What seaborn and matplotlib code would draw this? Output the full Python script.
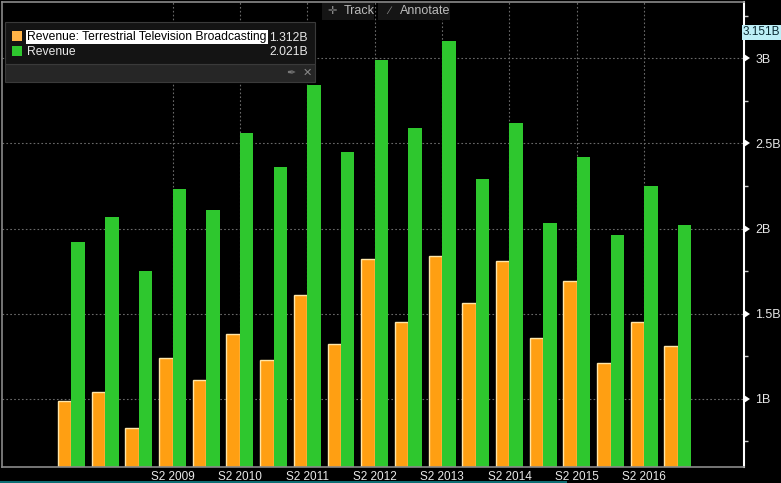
import numpy as np
import pandas as pd
import seaborn as sns
import matplotlib.pyplot as plt
from matplotlib.ticker import FixedLocator, MultipleLocator, FuncFormatter
from matplotlib.patches import Rectangle

# half-year periods, S1 2008 .. S1 2017
periods = ['S1 2008', 'S2 2008', 'S1 2009', 'S2 2009', 'S1 2010', 'S2 2010',
           'S1 2011', 'S2 2011', 'S1 2012', 'S2 2012', 'S1 2013', 'S2 2013',
           'S1 2014', 'S2 2014', 'S1 2015', 'S2 2015', 'S1 2016', 'S2 2016',
           'S1 2017']
tv_revenue = [0.99, 1.04, 0.83, 1.24, 1.11, 1.38, 1.23, 1.61, 1.32, 1.82,
              1.45, 1.84, 1.56, 1.81, 1.36, 1.69, 1.21, 1.45, 1.312]
total_revenue = [1.92, 2.07, 1.75, 2.23, 2.11, 2.56, 2.36, 2.84, 2.45, 2.99,
                 2.59, 3.10, 2.29, 2.62, 2.03, 2.42, 1.96, 2.25, 2.021]
series_names = ['Revenue: Terrestrial Television Broadcasting', 'Revenue']
x_labels = ['S2 2009', 'S2 2010', 'S2 2011', 'S2 2012',
            'S2 2013', 'S2 2014', 'S2 2015', 'S2 2016']
last_label = '3.151B'

orange = '#FF9F12'
green = '#2EC72E'

df = pd.DataFrame({
    'period': periods * 2,
    'series': [series_names[0]] * len(periods) + [series_names[1]] * len(periods),
    'value': tv_revenue + total_revenue,
})

sns.set_style('dark', {'axes.facecolor': 'black', 'figure.facecolor': 'black'})
plt.rcParams['font.family'] = ['Liberation Sans', 'DejaVu Sans']

W, H = 781, 483
fig = plt.figure(figsize=(W / 100, H / 100), dpi=100)
fig.patch.set_facecolor('black')
ax = fig.add_axes([2 / W, (H - 467) / H, (744 - 2) / W, (467 - 2) / H])
ax.set_facecolor('black')

sns.barplot(data=df, x='period', y='value', hue='series', order=periods,
            hue_order=series_names, palette=[orange, green], width=0.8,
            gap=0, saturation=1, legend=False, ax=ax)
for bar in ax.containers[0]:
    bar.set_edgecolor('#FFE6A8')
    bar.set_linewidth(1.0)
for bar in ax.containers[1]:
    bar.set_linewidth(0)

ax.set_xlim(-2.06, 19.96)
ax.set_ylim(0.60, 3.33)
ax.set_xlabel('')
ax.set_ylabel('')

# x ticks every S2 from 2009
xt = [periods.index(p) for p in x_labels]
ax.xaxis.set_major_locator(FixedLocator(xt))
ax.set_xticklabels(x_labels)
ax.tick_params(axis='x', colors='#9a9a9a', labelcolor='#e8e8e8', length=3,
               width=1, direction='out', labelsize=8.5, pad=0)

ax.yaxis.tick_right()
ax.yaxis.set_major_locator(MultipleLocator(0.5))
ax.yaxis.set_minor_locator(MultipleLocator(0.25))
ax.yaxis.set_major_formatter(FuncFormatter(lambda v, p: '{:g}B'.format(v)))
ax.tick_params(axis='y', which='major', colors='white', labelcolor='#e8e8e8',
               labelsize=9, length=0, pad=8)
ax.tick_params(axis='y', which='minor', colors='#cccccc', length=3, width=1,
               direction='out')
for t in ax.yaxis.get_major_ticks():
    t.tick2line.set_marker(9)
    t.tick2line.set_markersize(6)
    t.tick2line.set_markeredgewidth(0)
    t.tick2line.set_color('white')

ax.grid(True, which='major', color='#6a6a6a', linestyle=(0, (1.5, 2)),
        linewidth=0.8)
ax.set_axisbelow(True)

for side in ['left', 'top', 'bottom']:
    ax.spines[side].set_color('#8a8a8a')
    ax.spines[side].set_linewidth(1.2)
    ax.spines[side].set_visible(True)
ax.spines['right'].set_color('white')
ax.spines['right'].set_linewidth(1.5)
ax.spines['right'].set_visible(True)

# last value tag on the right axis
ax.text(0.9985, 3.151, last_label, transform=ax.get_yaxis_transform(),
        ha='left', va='center', fontsize=8.5, color='#0a2a33', zorder=8,
        bbox=dict(boxstyle='square,pad=0.1', fc='#BDEFF7', ec='none'))


def px(x, y):
    return x / W, 1 - y / H


# legend panel
fig.patches.append(Rectangle(px(5, 82), 310 / W, 18 / H, transform=fig.transFigure,
                             fc='#262626', ec='#3a3a3a', lw=0.8, zorder=5))
fig.patches.append(Rectangle(px(5, 64), 310 / W, 42 / H, transform=fig.transFigure,
                             fc='#141414', ec='#3a3a3a', lw=0.8, zorder=5))
fig.patches.append(Rectangle(px(12, 41), 10 / W, 10 / H, transform=fig.transFigure,
                             fc='#FFB347', ec='none', zorder=6))
fig.patches.append(Rectangle(px(12, 56), 10 / W, 10 / H, transform=fig.transFigure,
                             fc=green, ec='none', zorder=6))
fig.text(*px(27, 37), series_names[0], fontsize=8.7, color='black', va='center',
         ha='left', zorder=7,
         bbox=dict(boxstyle='square,pad=0.12', fc='white', ec='none'))
fig.text(*px(27, 52), series_names[1], fontsize=8.7, color='#e8e8e8',
         va='center', ha='left', zorder=7)
fig.text(*px(308, 38), '{:.3f}B'.format(tv_revenue[-1]), fontsize=8.7,
         color='#e8e8e8', va='center', ha='right', zorder=7)
fig.text(*px(308, 52), '{:.3f}B'.format(total_revenue[-1]), fontsize=8.7,
         color='#e8e8e8', va='center', ha='right', zorder=7)
fig.text(*px(291, 73), '\u2712', fontsize=8, color='#777777', va='center',
         ha='center', zorder=7, family='DejaVu Sans')
fig.text(*px(307, 73), '\u2715', fontsize=8, color='#8a8a8a', va='center',
         ha='center', zorder=7, family='DejaVu Sans')

# toolbar
fig.patches.append(Rectangle(px(322, 20), 52 / W, 17 / H, transform=fig.transFigure,
                             fc='#151515', ec='none', zorder=5))
fig.patches.append(Rectangle(px(378, 20), 72 / W, 17 / H, transform=fig.transFigure,
                             fc='#151515', ec='none', zorder=5))
fig.text(*px(332, 11), '\u271B', fontsize=8, color='#888888', va='center',
         ha='center', zorder=7, family='DejaVu Sans')
fig.text(*px(344, 11), 'Track', fontsize=9, color='#bbbbbb', va='center',
         ha='left', zorder=7)
fig.text(*px(389, 11), '\u2215', fontsize=8, color='#888888', va='center',
         ha='center', zorder=7)
fig.text(*px(400, 11), 'Annotate', fontsize=9, color='#bbbbbb', va='center',
         ha='left', zorder=7)

# bottom scroll strip
fig.patches.append(Rectangle(px(0, 483), 567 / W, 2 / H, transform=fig.transFigure,
                             fc='#0E6E74', ec='none', zorder=5))

fig.savefig('out.png', dpi=100, facecolor='black')
